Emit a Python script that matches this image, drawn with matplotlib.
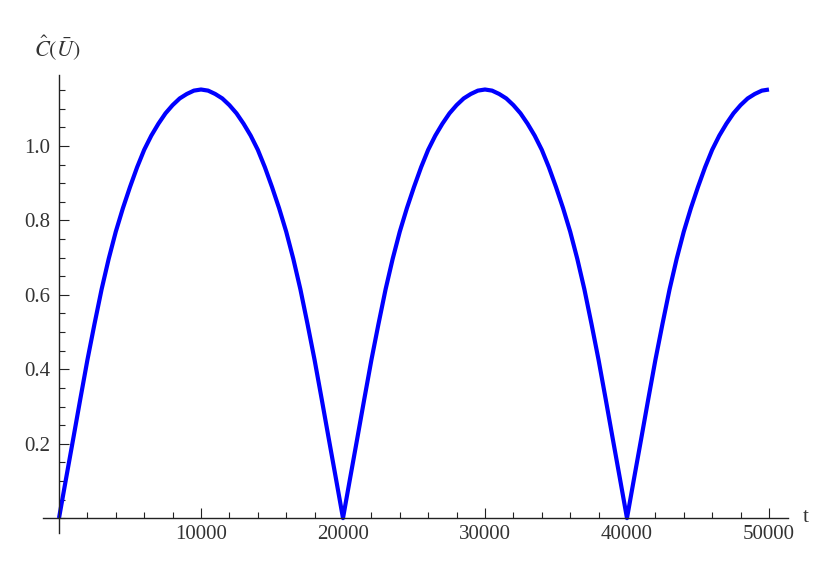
#!/usr/bin/env python3
import matplotlib.pyplot as plt
from matplotlib.ticker import MultipleLocator, FixedLocator

# values, one every 500 in t
t = list(range(0, 50001, 500))
c_hat = [
    # 0 .. 10000
    0.0, 0.107, 0.213, 0.32, 0.425, 0.522, 0.615, 0.697, 0.77, 0.833,
    0.89, 0.943, 0.99, 1.028, 1.06, 1.088, 1.11, 1.128, 1.14, 1.149,
    1.152,
    # 10500 .. 20000
    1.149, 1.14, 1.128, 1.11, 1.088, 1.06, 1.028, 0.99, 0.943, 0.89,
    0.833, 0.77, 0.697, 0.615, 0.522, 0.425, 0.32, 0.213, 0.107, 0.0,
    # 20500 .. 30000
    0.107, 0.213, 0.32, 0.425, 0.522, 0.615, 0.697, 0.77, 0.833, 0.89,
    0.943, 0.99, 1.028, 1.06, 1.088, 1.11, 1.128, 1.14, 1.149, 1.152,
    # 30500 .. 40000
    1.149, 1.14, 1.128, 1.11, 1.088, 1.06, 1.028, 0.99, 0.943, 0.89,
    0.833, 0.77, 0.697, 0.615, 0.522, 0.425, 0.32, 0.213, 0.107, 0.0,
    # 40500 .. 50000
    0.107, 0.213, 0.32, 0.425, 0.522, 0.615, 0.697, 0.77, 0.833, 0.89,
    0.943, 0.99, 1.028, 1.06, 1.088, 1.11, 1.128, 1.14, 1.149, 1.152,
]

x_ticks = [10000, 20000, 30000, 40000, 50000]
y_ticks = [0.2, 0.4, 0.6, 0.8, 1.0]

plt.rcParams['mathtext.fontset'] = 'stix'

fig = plt.figure(figsize=(8.31, 5.64), dpi=100)
ax = fig.add_axes([43 / 831, 31 / 564, 745 / 831, 458 / 564])

ax.plot(t, c_hat, color='#0000ff', lw=3, solid_joinstyle='round',
        solid_capstyle='butt', clip_on=False)

ax.set_xlim(-1127, 51340)
ax.set_ylim(-0.04, 1.191)

for s in ['top', 'right']:
    ax.spines[s].set_visible(False)
for s in ['left', 'bottom']:
    ax.spines[s].set_position(('data', 0))
    ax.spines[s].set_linewidth(1.0)
    ax.spines[s].set_color('#222222')

ax.xaxis.set_major_locator(FixedLocator(x_ticks))
ax.xaxis.set_minor_locator(MultipleLocator(2000))
ax.yaxis.set_major_locator(FixedLocator(y_ticks))
ax.yaxis.set_minor_locator(MultipleLocator(0.05))
ax.set_xticklabels([str(v) for v in x_ticks])
ax.set_yticklabels([f'{v:.1f}' for v in y_ticks])

ax.tick_params(axis='both', which='both', direction='in', color='#222222',
               width=0.8, labelcolor='#333333')
ax.tick_params(axis='both', which='major', length=7.2)
ax.tick_params(axis='both', which='minor', length=4.0)
ax.tick_params(axis='x', which='major', pad=5)
ax.tick_params(axis='y', which='major', pad=6)
for lab in ax.get_xticklabels() + ax.get_yticklabels():
    lab.set_family('Liberation Serif')
    lab.set_fontsize(15)

fig.text(803 / 831, 1 - 517 / 564, 't', family='Liberation Serif',
         fontsize=15, color='#333333', ha='left', va='center')
fig.text(57 / 831, 1 - 48 / 564, r'$\hat{C}(\bar{U})$', fontsize=16,
         color='#333333', ha='center', va='center')

plt.savefig('out.png', dpi=100)
